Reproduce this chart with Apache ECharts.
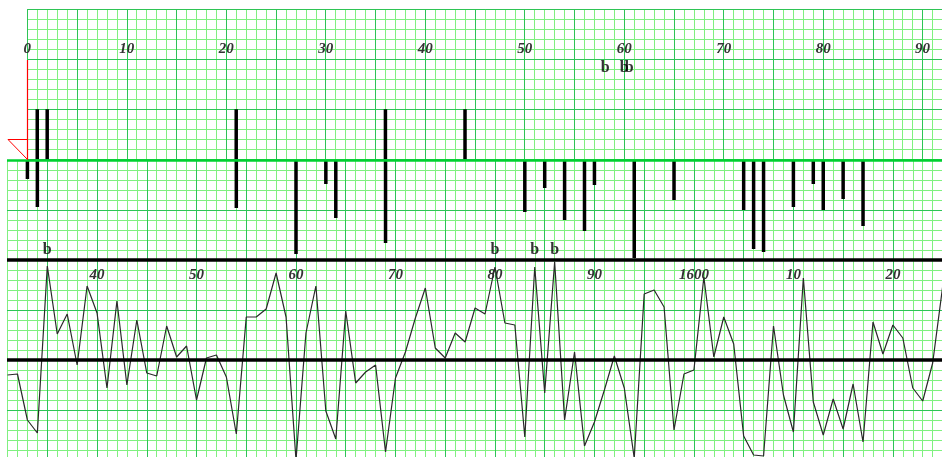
<!DOCTYPE html>
<html><head><meta charset="utf-8">
<script src="https://cdn.jsdelivr.net/npm/echarts@6/dist/echarts.min.js"></script>
<style>html,body{margin:0;padding:0;background:#fff}#c{width:942px;height:457px}</style>
</head><body><div id="c"></div>
<script>
// ---- Sample skeleton plot (relative years) ----
const sampleYears = [1, 2, 21, 36, 44];
const sampleHeights = [5, 5, 5, 5, 5];
const sampleBigYears = [58.1, 60.0, 60.5];
const sampleTickLabels = [0, 10, 20, 30, 40, 50, 60, 70, 80, 90];

// ---- Master skeleton plot (calendar years) ----
const masterYears = [1533, 1534, 1554, 1560, 1563, 1564, 1569, 1583, 1585, 1587, 1589, 1590, 1594, 1598, 1605, 1606, 1607, 1610, 1612, 1613, 1615, 1617];
const masterHeights = [1.9, 4.7, 4.8, 9.4, 2.4, 5.8, 8.3, 5.2, 2.8, 6.0, 7.1, 2.5, 9.8, 4.0, 5.0, 8.9, 9.2, 4.7, 2.4, 5.0, 3.9, 6.6];
const masterBigYears = [1535, 1580, 1584, 1586];
const masterTickLabels = [1540, 1550, 1560, 1570, 1580, 1590, 1600, 1610, 1620];

// ---- Master chronology (ring-width index) ----
const chronoYears = [1531,1532,1533,1534,1535,1536,1537,1538,1539,1540,1541,1542,1543,1544,1545,1546,1547,1548,1549,1550,
  1551,1552,1553,1554,1555,1556,1557,1558,1559,1560,1561,1562,1563,1564,1565,1566,1567,1568,1569,1570,
  1571,1572,1573,1574,1575,1576,1577,1578,1579,1580,1581,1582,1583,1584,1585,1586,1587,1588,1589,1590,
  1591,1592,1593,1594,1595,1596,1597,1598,1599,1600,1601,1602,1603,1604,1605,1606,1607,1608,1609,1610,
  1611,1612,1613,1614,1615,1616,1617,1618,1619,1620,1621,1622,1623,1624,1625];
const chronoValues = [-1.5,-1.4,-6.0,-7.3,9.4,2.6,4.6,-0.5,7.4,4.7,-2.8,5.9,-2.5,4.0,-1.3,-1.6,3.4,0.3,1.4,-4.0,
  0.2,0.5,-1.7,-7.4,4.3,4.3,5.1,8.7,4.3,-10.0,2.7,7.4,-5.1,-7.9,4.9,-2.3,-1.2,-0.5,-9.2,-1.8,
  0.8,4.2,7.2,1.2,0.2,2.7,1.8,5.2,4.6,9.3,3.7,3.5,-7.7,9.3,-3.3,9.8,-6.0,0.8,-8.6,-6.2,
  -3.0,0.4,-2.8,-9.8,6.6,7.0,5.3,-7.0,-1.4,-1.0,8.3,0.3,4.3,1.6,-7.6,-9.5,-9.6,3.4,-3.5,-7.2,
  8.2,-4.2,-7.5,-3.9,-6.9,-2.4,-8.2,3.8,0.6,3.5,2.2,-2.8,-4.1,-0.3,7.3];

const PX = 9.948;            // pixels per year
const UP_LEFT = 27.3;
const LOW_LEFT = 47.3 - 5 * PX;
const MINOR = '#80f080';
const MAJOR = '#2ec455';
const LABEL_FONT = {fontFamily: '"Liberation Serif", serif', fontStyle: 'italic', fontWeight: 'bold', fontSize: 15, color: '#333'};
const B_FONT = {fontFamily: '"Liberation Serif", serif', fontWeight: 'bold', fontSize: 16, color: '#000'};

function lineAxis(extra, color, z) {
  return Object.assign({
    type: 'value', z: z,
    axisLine: {show: false},
    axisTick: {show: false},
    splitLine: {show: true, lineStyle: {color: color, width: 1}},
    axisLabel: {show: false}
  }, extra);
}

const chart = echarts.init(document.getElementById('c'), null, {renderer: 'canvas'});
chart.setOption({
  animation: false,
  backgroundColor: '#fff',
  grid: [
    {left: UP_LEFT, top: 9.3, width: 95 * PX, height: 150, outerBoundsMode: 'none', containLabel: false},
    {left: LOW_LEFT, top: 160, width: 100 * PX, height: 300, outerBoundsMode: 'none', containLabel: false},
    {left: LOW_LEFT, top: 160, width: 100 * PX, height: 100, outerBoundsMode: 'none', containLabel: false}
  ],
  xAxis: [
    lineAxis({gridIndex: 0, min: 0, max: 95, interval: 1, position: 'bottom'}, MINOR, 0),
    lineAxis({gridIndex: 0, min: 0, max: 95, interval: 5, position: 'bottom'}, MAJOR, 1),
    lineAxis({gridIndex: 1, min: 1530, max: 1630, interval: 1, position: 'bottom'}, MINOR, 0),
    lineAxis({gridIndex: 1, min: 1530, max: 1630, interval: 5, position: 'bottom'}, MAJOR, 1),
    {gridIndex: 1, type: 'value', min: 1530, max: 1630, interval: 10, position: 'top', z: 2,
      axisLine: {show: false}, axisTick: {show: false}, splitLine: {show: false},
      axisLabel: Object.assign({show: true, inside: true, margin: 115, verticalAlign: 'middle',
        formatter: v => masterTickLabels.indexOf(v) >= 0 ? (v === 1600 ? '1600' : String(v % 100)) : ''}, LABEL_FONT)},
    {gridIndex: 2, type: 'value', min: 1530, max: 1630, show: false, splitLine: {show: false}},
    {gridIndex: 0, type: 'value', min: 0, max: 95, interval: 10, position: 'top', z: 2,
      axisLine: {show: false}, axisTick: {show: false}, splitLine: {show: false},
      axisLabel: Object.assign({show: true, inside: true, margin: 40, verticalAlign: 'middle',
        formatter: v => sampleTickLabels.indexOf(v) >= 0 ? String(v) : ''}, LABEL_FONT)}
  ],
  yAxis: [
    lineAxis({gridIndex: 0, min: 0, max: 15, interval: 1}, MINOR, 0),
    lineAxis({gridIndex: 0, min: 0, max: 15, interval: 5}, MAJOR, 1),
    lineAxis({gridIndex: 1, min: -10, max: 20, interval: 1}, MINOR, 0),
    lineAxis({gridIndex: 1, min: -10, max: 20, interval: 5}, MAJOR, 1),
    {gridIndex: 2, type: 'value', min: 0, max: 10, inverse: true, show: false, splitLine: {show: false}}
  ],
  series: [
    {
      type: 'line', xAxisIndex: 3, yAxisIndex: 3, symbol: 'none', z: 3,
      lineStyle: {color: '#2a2a2a', width: 1.2},
      data: chronoYears.map((y, i) => [y, chronoValues[i]]),
      markLine: {
        silent: true, symbol: ['none', 'none'], label: {show: false}, animation: false,
        lineStyle: {color: '#000', width: 3.5, type: 'solid'},
        data: [{yAxis: 0}, {yAxis: 10}, {yAxis: 20, lineStyle: {color: '#00d030', width: 2.5, type: 'solid'}}]
      }
    },
    {
      type: 'bar', xAxisIndex: 1, yAxisIndex: 1, barWidth: 3.5, z: 4,
      itemStyle: {color: '#000'},
      data: sampleYears.map((y, i) => [y, sampleHeights[i]])
    },
    {
      type: 'bar', xAxisIndex: 5, yAxisIndex: 4, barWidth: 3.5, z: 4,
      itemStyle: {color: '#000'},
      data: masterYears.map((y, i) => [y, masterHeights[i]])
    },
    {
      type: 'scatter', xAxisIndex: 1, yAxisIndex: 1, symbolSize: 1, z: 5,
      itemStyle: {color: 'rgba(0,0,0,0)'},
      label: Object.assign({show: true, position: 'inside', formatter: 'b'}, B_FONT),
      data: sampleBigYears.map(y => [y, 9.1])
    },
    {
      type: 'scatter', xAxisIndex: 3, yAxisIndex: 3, symbolSize: 1, z: 5,
      itemStyle: {color: 'rgba(0,0,0,0)'},
      label: Object.assign({show: true, position: 'inside', formatter: 'b'}, B_FONT),
      data: masterBigYears.map(y => [y, 11])
    }
  ],
  graphic: [
    {type: 'rect', z: 100, shape: {x: 0, y: 158.5, width: 7, height: 300}, style: {fill: '#fff'}},
    {type: 'polyline', z: 101, shape: {points: [[27.5, 60], [27.5, 159.5]]}, style: {stroke: '#ff0000', lineWidth: 1.2, fill: null}},
    {type: 'polygon', z: 101, shape: {points: [[8, 139.5], [27.5, 139.5], [27.5, 159.5]]}, style: {stroke: '#ff0000', lineWidth: 1, fill: null}}
  ]
});
</script>
</body></html>
